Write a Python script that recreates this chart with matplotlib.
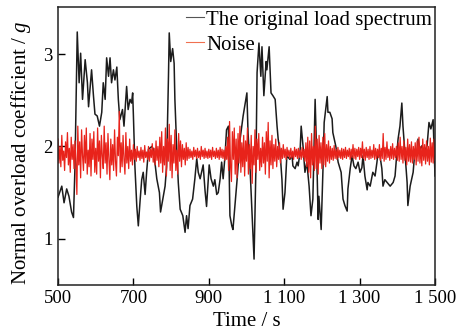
import numpy as np
import matplotlib
matplotlib.use("Agg")
import matplotlib.pyplot as plt
from matplotlib.lines import Line2D

# ---- data ----
load_time = [500, 510, 516, 523, 529, 536, 541, 545, 548, 551, 556, 560, 565, 572, 578, 581,
             589, 594, 598, 604, 610, 616, 620, 625, 629, 634, 638, 642, 647, 651, 656, 660,
             664, 671, 675, 682, 686, 691, 695, 698, 700, 704, 709, 713, 718, 722, 726, 731,
             735, 740, 749, 753, 762, 769, 772, 778, 784, 788, 793, 795, 799, 804, 808, 810,
             815, 819, 824, 831, 837, 841, 845, 850, 857, 863, 868, 872, 877, 885, 890, 894,
             901, 906, 912, 916, 921, 925, 930, 934, 938, 943, 947, 952, 956, 961, 964, 975,
             983, 991, 1001, 1004, 1009, 1015, 1017, 1020, 1025, 1028, 1033, 1038, 1041, 1046,
             1052, 1054, 1060, 1065, 1070, 1076, 1081, 1084, 1089, 1094, 1097, 1102, 1107, 1115,
             1121, 1123, 1129, 1134, 1137, 1142, 1145, 1150, 1155, 1160, 1166, 1171, 1176, 1179,
             1182, 1187, 1190, 1192, 1198, 1203, 1206, 1214, 1216, 1221, 1227, 1229, 1237, 1243,
             1251, 1256, 1261, 1267, 1269, 1275, 1280, 1285, 1290, 1296, 1301, 1306, 1309, 1314,
             1320, 1322, 1328, 1335, 1341, 1346, 1349, 1354, 1359, 1362, 1367, 1373, 1381, 1389,
             1394, 1399, 1402, 1407, 1412, 1415, 1420, 1426, 1428, 1434, 1442, 1447, 1452, 1455,
             1460, 1466, 1468, 1479, 1484, 1489, 1495, 1500]
load_value = [1.45, 1.57, 1.39, 1.54, 1.46, 1.29, 1.23, 1.78, 2.51, 3.24, 2.69, 3.01, 2.51, 2.94, 2.69, 2.43,
              2.83, 2.55, 2.35, 2.33, 2.22, 2.37, 2.69, 2.51, 2.96, 2.76, 2.96, 2.69, 2.83, 2.72, 2.86, 2.51,
              2.29, 2.40, 2.22, 2.65, 2.40, 2.51, 2.47, 2.58, 2.33, 1.78, 1.35, 1.14, 1.43, 1.64, 1.72, 1.48,
              1.72, 1.97, 2.00, 1.97, 1.65, 1.50, 1.29, 1.43, 1.57, 1.78, 2.76, 3.23, 2.92, 3.06, 2.90, 2.51,
              1.97, 1.61, 1.32, 1.25, 1.07, 1.25, 1.11, 1.36, 1.43, 1.65, 1.87, 1.72, 1.65, 1.80, 1.52, 1.35,
              1.80, 1.65, 1.57, 1.64, 1.48, 1.50, 1.65, 1.83, 1.65, 1.90, 2.18, 2.22, 1.25, 1.14, 1.10, 1.64,
              2.08, 2.33, 2.58, 2.15, 1.80, 1.25, 1.07, 0.78, 1.78, 2.80, 3.12, 2.76, 3.08, 2.55,
              2.92, 2.83, 3.08, 2.58, 2.55, 2.51, 2.22, 2.08, 1.94, 1.64, 1.32, 1.50, 1.90, 1.86,
              1.90, 1.79, 1.76, 1.83, 1.79, 1.94, 2.22, 2.00, 1.72, 1.83, 1.57, 1.25, 1.43, 1.97,
              2.51, 1.78, 1.21, 1.46, 1.10, 1.78, 2.26, 2.54, 2.37, 2.37, 2.30, 2.15, 2.00, 1.83,
              1.72, 1.43, 1.36, 1.30, 1.54, 1.76, 1.90, 1.79, 1.76, 1.83, 1.72, 1.77, 1.90, 1.68,
              1.53, 1.61, 1.57, 1.72, 1.68, 1.83, 1.94, 1.90, 1.76, 1.57, 1.64, 1.61, 1.57, 1.61,
              1.68, 1.94, 2.08, 2.22, 2.47, 2.22, 1.94, 1.61, 1.36, 1.57, 1.72, 1.97, 1.90, 2.08,
              1.97, 2.01, 1.90, 2.01, 2.26, 2.19, 2.29, 1.68]

noise_value = [
    2.08, 1.82, 2.00, 1.78, 2.12, 1.85, 1.95, 1.74, 2.05, 1.88, 2.15, 1.80, 1.98, 1.72, 2.10, 1.86, 2.02, 1.76, 2.06, 1.84,
    1.48, 2.22, 1.80, 2.05, 1.66, 2.18, 1.90, 1.74, 2.12, 1.82, 2.20, 1.70, 1.96, 1.78, 2.14, 1.68, 2.08, 1.86, 2.16, 1.72,
    1.98, 1.70, 2.20, 1.84, 2.06, 1.66, 2.12, 1.90, 1.76, 2.22, 1.82, 2.04, 1.70, 2.14, 1.86, 1.64, 2.08, 1.80, 2.02, 1.74,
    2.18, 1.84, 1.68, 2.10, 1.90, 2.38, 1.72, 2.04, 1.78, 2.12, 1.86, 1.70, 2.15, 1.82, 2.00, 1.76, 2.08, 1.84, 1.96, 1.80,
    2.02, 1.86, 1.97, 1.84, 2.00, 1.88, 1.95, 1.85, 1.99, 1.87, 1.96, 1.83, 2.01, 1.88, 1.94, 1.86, 2.00, 1.84, 1.97, 1.88,
    2.03, 1.83, 1.98, 1.80, 2.06, 1.85, 2.00, 1.78, 2.10, 1.82, 2.16, 1.72, 2.00, 1.80, 2.20, 1.68, 2.08, 1.84, 2.24, 1.74,
    2.12, 1.66, 2.02, 1.82, 2.18, 1.74, 1.96, 1.70, 2.14, 1.84, 2.06, 1.78, 2.02, 1.86, 1.98, 1.80, 2.04, 1.85, 1.99, 1.87,
    1.97, 1.88, 1.95, 1.86, 1.99, 1.89, 1.96, 1.87, 1.98, 1.88, 1.95, 1.86, 2.00, 1.89, 1.96, 1.87, 1.98, 1.88, 1.95, 1.87,
    1.97, 1.88, 1.96, 1.86, 1.99, 1.89, 1.95, 1.87, 1.98, 1.88, 1.96, 1.86, 1.99, 1.88, 1.97, 1.87, 1.96, 1.85, 2.00, 1.86,
    2.10, 1.74, 2.27, 1.80, 1.62, 2.16, 1.86, 2.20, 1.70, 2.08, 1.66, 2.14, 1.82, 2.22, 1.72, 2.04, 1.78, 2.12, 1.68, 2.06,
    1.84, 2.20, 1.70, 2.02, 1.76, 2.12, 1.60, 2.00, 1.80, 2.18, 1.72, 2.08, 1.86, 2.14, 1.74, 1.98, 1.78, 2.10, 1.82, 2.04,
    1.70, 2.16, 1.84, 2.26, 1.66, 2.06, 1.80, 2.12, 1.76, 2.02, 1.84, 2.08, 1.78, 2.00, 1.86, 2.04, 1.82, 1.98, 1.87, 2.02,
    1.88, 1.97, 1.86, 1.99, 1.89, 1.96, 1.87, 1.98, 1.88, 1.95, 1.86, 1.99, 1.89, 1.97, 1.87, 1.98, 1.88, 1.96, 1.86, 1.99,
    1.88, 1.97, 1.84, 2.04, 1.78, 2.10, 1.72, 2.06, 1.66, 2.14, 1.80, 2.00, 1.74, 2.22, 1.76, 2.08, 1.70, 2.12, 1.82, 2.04,
    1.76, 2.10, 1.80, 2.14, 1.78, 2.02, 1.84, 2.06, 1.82, 2.00, 1.86, 1.98, 1.85, 2.01, 1.87, 1.97, 1.86, 1.99, 1.88, 1.96,
    1.87, 1.98, 1.86, 1.97, 1.88, 1.99, 1.87, 1.96, 1.89, 1.98, 1.86, 1.97, 1.88, 2.02, 1.87, 1.98, 1.86, 1.97, 1.89, 1.99,
    1.86, 1.98, 1.88, 2.05, 1.87, 1.97, 1.85, 1.99, 1.88, 1.97, 1.86, 2.00, 1.87, 1.96, 1.88, 2.02, 1.86, 1.98, 1.87, 1.97,
    1.88, 2.02, 1.85, 1.98, 1.87, 2.14, 1.84, 1.99, 1.86, 2.05, 1.88, 1.97, 1.85, 2.00, 1.87, 2.03, 1.86, 1.98, 1.88, 2.00,
    1.85, 2.04, 1.84, 2.10, 1.86, 2.00, 1.82, 2.06, 1.85, 1.99, 1.80, 2.08, 1.84, 2.02, 1.83, 2.05, 1.82, 2.00, 1.86, 2.04,
    1.80, 2.06, 1.84, 2.10, 1.82, 2.00, 1.79, 2.08, 1.85, 2.02, 1.81, 2.06, 1.84, 2.00, 1.80, 2.09, 1.83, 2.04, 1.82, 2.08,
    1.85]

x_ticks = [500, 700, 900, 1100, 1300, 1500]
x_tick_labels = ["500", "700", "900", "1 100", "1 300", "1 500"]
y_ticks = [1, 2, 3]
y_tick_labels = ["1", "2", "3"]

plt.rcParams['font.family'] = ['Liberation Serif', 'DejaVu Serif']
plt.rcParams['mathtext.fontset'] = 'custom'
plt.rcParams['mathtext.it'] = 'Liberation Serif:italic'
plt.rcParams['mathtext.rm'] = 'Liberation Serif'

fig = plt.figure(figsize=(4.66, 3.36), dpi=100)
ax = fig.add_axes([0.1245, 0.152, 0.809, 0.827])

noise_time = np.linspace(500, 1500, len(noise_value))

ax.plot(load_time, load_value, color='#1c1c1c', lw=1.1)
ax.plot(noise_time, noise_value, color='#e8231b', lw=0.9)

ax.set_xlim(500, 1500)
ax.set_ylim(0.5, 3.51)
ax.set_xticks(x_ticks)
ax.set_xticklabels(x_tick_labels)
ax.set_yticks(y_ticks)
ax.set_yticklabels(y_tick_labels)
ax.tick_params(direction='in', length=5, width=1.0, labelsize=13.5, pad=4)
for s in ax.spines.values():
    s.set_linewidth(1.1)
    s.set_color('#222222')

ax.set_xlabel('Time / s', fontsize=15, labelpad=3.5)
ax.set_ylabel('Normal overload coefficient / $g$', fontsize=15)
ax.yaxis.set_label_coords(-0.066, 0.475)

h1 = Line2D([], [], color='#555555', lw=0.8)
h2 = Line2D([], [], color='#f07050', lw=0.8)
ax.legend([h1, h2], ['The original load spectrum', 'Noise'], loc='upper right',
          bbox_to_anchor=(1.0, 1.0), frameon=False, fontsize=15, handlelength=0.85,
          handletextpad=0.1, borderaxespad=0.15, borderpad=0.0, labelspacing=0.25)

fig.savefig('out.png', dpi=100)
